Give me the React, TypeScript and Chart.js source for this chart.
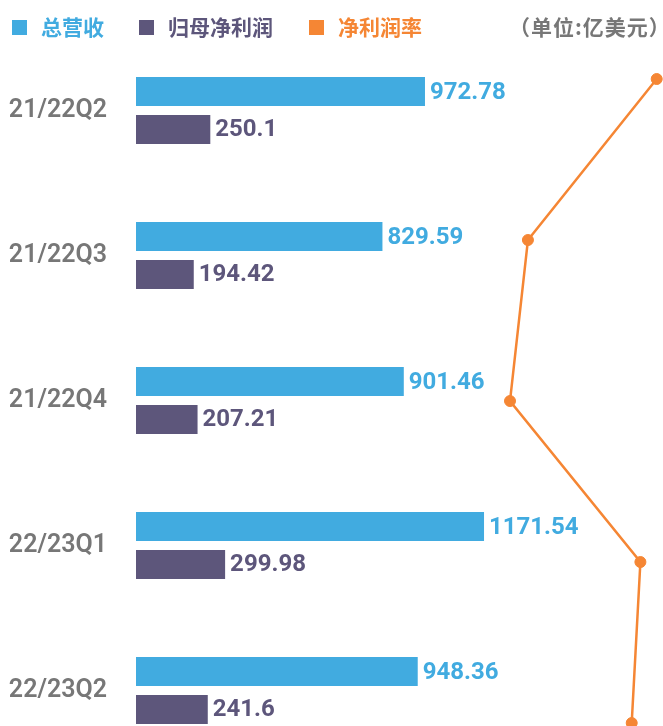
import React, { useEffect, useRef } from "react";
import { Chart, registerables } from "chart.js";

Chart.register(...registerables);

const categories = ["21/22Q2", "21/22Q3", "21/22Q4", "22/23Q1", "22/23Q2"];
const revenue = [972.78, 829.59, 901.46, 1171.54, 948.36];
const netProfit = [250.1, 194.42, 207.21, 299.98, 241.6];
const netMargin = [25.7, 23.33, 23.0, 25.4, 25.24];
const legendNames = ["总营收", "归母净利润", "净利润率"];
const unitText = "（单位:亿美元）";

const BLUE = "#41ABE0";
const PURPLE = "#5D567B";
const ORANGE = "#F58634";
const GRAY = "#777777";

const valueLabels = {
  id: "valueLabels",
  afterDatasetsDraw(chart: any) {
    const ctx = chart.ctx;
    ctx.save();
    ctx.font = "bold 24px Roboto";
    ctx.textBaseline = "middle";
    ctx.textAlign = "left";
    chart.data.datasets.forEach((ds: any, di: number) => {
      const meta = chart.getDatasetMeta(di);
      meta.data.forEach((el: any, i: number) => {
        ctx.fillStyle = ds.backgroundColor;
        ctx.fillText(String(ds.data[i]), el.x + 5, el.y + 1);
      });
    });
    ctx.restore();
  },
};

export default function App() {
  const barRef = useRef<HTMLCanvasElement>(null);
  const lineRef = useRef<HTMLCanvasElement>(null);
  useEffect(() => {
    if (!barRef.current || !lineRef.current) return;
    const barChart = new Chart(barRef.current, {
      type: "bar",
      data: {
        labels: categories,
        datasets: [
          {
            label: legendNames[0],
            data: revenue,
            backgroundColor: BLUE,
            categoryPercentage: 0.524,
            barPercentage: 0.763,
          },
          {
            label: legendNames[1],
            data: netProfit,
            backgroundColor: PURPLE,
            categoryPercentage: 0.524,
            barPercentage: 0.763,
          },
        ],
      },
      options: {
        indexAxis: "y",
        responsive: false,
        animation: false,
        events: [],
        layout: { padding: 0, autoPadding: false },
        plugins: { legend: { display: false }, tooltip: { enabled: false } },
        scales: {
          x: { type: "linear", display: false, min: 0, max: 1774 },
          y: {
            type: "category",
            offset: true,
            grid: { display: false, drawTicks: false },
            border: { display: false },
            afterFit: (s: any) => {
              s.width = 136;
              s.paddingTop = 0;
              s.paddingBottom = 0;
            },
            ticks: {
              autoSkip: false,
              crossAlign: "near",
              padding: 29,
              color: GRAY,
              font: { family: "Roboto", size: 25, weight: "600" },
            },
          },
        },
      } as any,
      plugins: [valueLabels],
    });

    const lineChart = new Chart(lineRef.current, {
      type: "line",
      data: {
        datasets: [
          {
            label: legendNames[2],
            data: netMargin.map((v, i) => ({ x: v, y: i })),
            borderColor: ORANGE,
            backgroundColor: ORANGE,
            borderWidth: 2.5,
            pointRadius: 5.5,
            pointBorderWidth: 1,
            pointBorderColor: ORANGE,
            pointBackgroundColor: ORANGE,
            tension: 0,
            clip: false,
          },
        ],
      },
      options: {
        indexAxis: "y",
        responsive: false,
        animation: false,
        events: [],
        layout: { padding: 0, autoPadding: false },
        plugins: { legend: { display: false }, tooltip: { enabled: false } },
        scales: {
          x: { type: "linear", display: false, min: 13.613, max: 25.816 },
          y: {
            type: "linear",
            display: false,
            reverse: true,
            offset: false,
            min: -0.2547,
            max: 4.2484,
          },
        },
      } as any,
    });
    return () => {
      barChart.destroy();
      lineChart.destroy();
    };
  }, []);

  const legendItems = [
    { box: 11.7, text: 41, color: BLUE, name: legendNames[0] },
    { box: 139.3, text: 168, color: PURPLE, name: legendNames[1] },
    { box: 309.3, text: 338, color: ORANGE, name: legendNames[2] },
  ];
  const textStyle: React.CSSProperties = {
    position: "absolute",
    top: 16,
    fontFamily: '"Noto Sans CJK SC", sans-serif',
    fontWeight: 700,
    fontSize: 21,
    lineHeight: "21px",
    whiteSpace: "nowrap",
  };

  return (
    <div
      style={{
        position: "fixed",
        left: 0,
        top: 0,
        width: 663,
        height: 726,
        overflow: "hidden",
        background: "#fff",
      }}
    >
      <canvas
        ref={barRef}
        width={663}
        height={725}
        style={{ display: "block", position: "absolute", left: 0, top: 38 }}
      />
      <canvas
        ref={lineRef}
        width={663}
        height={725}
        style={{ display: "block", position: "absolute", left: 0, top: 38 }}
      />
      {legendItems.map((it) => (
        <React.Fragment key={it.name}>
          <div
            style={{
              position: "absolute",
              left: it.box,
              top: 20,
              width: 15,
              height: 15,
              background: it.color,
            }}
          />
          <span style={{ ...textStyle, left: it.text, color: it.color }}>{it.name}</span>
        </React.Fragment>
      ))}
      <span style={{ ...textStyle, left: 509, color: GRAY, letterSpacing: "1px" }}>
        {unitText}
      </span>
    </div>
  );
}
